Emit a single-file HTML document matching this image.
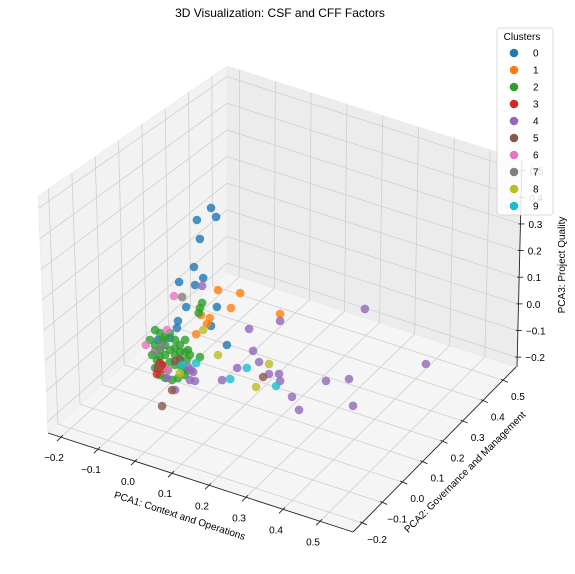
<!DOCTYPE html>
<html><head><meta charset="utf-8"><style>
html,body{margin:0;padding:0;background:#fff;}
svg{display:block;font-family:"Liberation Sans","DejaVu Sans",sans-serif;}
</style></head><body>
<svg id="chart" width="575" height="574" viewBox="0 0 575 574" xmlns="http://www.w3.org/2000/svg">
<rect width="575" height="574" fill="#fff"/>
<g id="panes"></g>
<g id="grid"></g>
<g id="axes"></g>
<g id="points"></g>
<text x="280" y="17" font-size="12" text-anchor="middle" fill="#000">3D Visualization: CSF and CFF Factors</text>
<g id="legend"></g>
</svg>
<script>
const pca1 = [0.072,0.086,0.034,0.042,0.026,-0.014,0.051,0.029,0.005,0.088,-0.017,-0.020,0.072,0.115,-0.071,-0.039,
 0.091,0.151,0.126,0.069,0.045,0.061,0.032,0.259,
 0.048,0.042,0.039,0.042,0.002,0.015,-0.079,-0.066,-0.052,-0.039,-0.025,-0.012,0.002,-0.079,-0.066,-0.052,-0.039,-0.025,-0.012,0.002,-0.074,-0.060,-0.044,-0.025,-0.006,-0.066,-0.052,-0.033,-0.017,-0.087,0.007,-0.093,-0.079,-0.039,-0.052,-0.025,-0.066,-0.012,0.002,0.010,-0.058,
 -0.066,-0.060,-0.074,-0.071,-0.055,
 0.048,0.175,0.259,0.186,0.202,0.143,0.102,0.229,0.256,0.259,0.291,0.310,0.018,0.024,0.010,0.015,0.029,-0.047,-0.025,0.488,0.653,0.383,0.445,0.456,
 0.213,-0.033,-0.060,-0.012,-0.071,-0.025,
 -0.028,-0.104,-0.047,-0.044,
 -0.006,-0.060,-0.079,
 0.051,0.091,0.229,0.194,-0.012,
 0.032,0.169,0.124,0.248,-0.006];
const pca3 = [0.555,0.528,0.493,0.426,0.314,0.240,0.284,0.248,0.155,0.193,0.093,0.066,0.115,0.063,-0.002,0.020,
 0.257,0.273,0.206,0.143,0.143,0.117,0.066,0.244,
 0.190,0.168,0.148,-0.015,-0.100,-0.019,0.031,0.026,0.018,0.038,0.019,0.006,0.031,-0.025,-0.037,-0.050,-0.025,-0.037,-0.050,-0.014,-0.078,-0.091,-0.102,-0.075,-0.077,-0.131,-0.135,-0.134,-0.120,-0.065,-0.041,-0.012,-0.110,-0.070,-0.012,-0.011,-0.063,-0.021,-0.081,-0.003,0.004,
 -0.086,-0.091,-0.131,-0.110,-0.103,
 0.253,0.150,0.218,0.073,0.039,-0.010,-0.074,0.006,0.019,-0.006,-0.051,-0.091,-0.074,-0.079,-0.066,-0.113,-0.110,-0.133,-0.168,0.366,0.235,0.050,0.085,-0.010,
 -0.012,-0.172,-0.244,-0.047,-0.102,-0.060,
 0.181,-0.036,0.046,-0.102,
 0.188,-0.020,-0.047,
 0.090,0.015,0.044,-0.058,-0.099,
 -0.042,0.002,-0.060,-0.030,-0.066];
const clusterSizes = [16,8,41,5,24,6,4,3,5,5];
const pca2 = pca1.map(() => 0);
const clusterColors = ["#1f77b4","#ff7f0e","#2ca02c","#d62728","#9467bd","#8c564b","#e377c2","#7f7f7f","#bcbd22","#17becf"];
const xTicks = [-0.2,-0.1,0.0,0.1,0.2,0.3,0.4,0.5];
const yTicks = [-0.2,-0.1,0.0,0.1,0.2,0.3,0.4,0.5];
const zTicks = [-0.2,-0.1,0.0,0.1,0.2,0.3,0.4,0.5];

const XR=[-0.235,0.589], YR=[-0.245,0.565], ZR=[-0.237,0.54];
function proj(x,y,z){
  return [353+(x-XR[1])*370+(y-YR[0])*201, 532+(x-XR[1])*121-(y-YR[0])*201-(z-ZR[0])*268];
}
function bil(q,u,v){
  const a=[q[0][0]+(q[1][0]-q[0][0])*u, q[0][1]+(q[1][1]-q[0][1])*u];
  const b=[q[2][0]+(q[3][0]-q[2][0])*u, q[2][1]+(q[3][1]-q[2][1])*u];
  return [a[0]+(b[0]-a[0])*v, a[1]+(b[1]-a[1])*v];
}
const NS="http://www.w3.org/2000/svg";
function mk(tag,attrs,parent){const e=document.createElementNS(NS,tag);for(const k in attrs)e.setAttribute(k,attrs[k]);parent.appendChild(e);return e;}
const FL=[48,433],FR=[353,532],BL=[227,273],BR=[516,367],FLt=[38,196],BLt=[227,66],BRt=[522,160];
const leftQ=[FL,BL,FLt,BLt], backQ=[BL,BR,BLt,BRt], floorQ=[FL,FR,BL,BR];
const panes=document.getElementById('panes');
[[leftQ,'#f2f2f2','left-wall-pane'],[backQ,'#ececec','back-wall-pane'],[floorQ,'#f5f5f5','floor-pane']].forEach(([q,c,n])=>{
  const p=mk('polygon',{points:[q[0],q[1],q[3],q[2]].map(a=>a.join(',')).join(' '),fill:c,stroke:'#e6e6e6','stroke-width':0.5},panes);
  
  
});
const grid=document.getElementById('grid');
function gl(a,b){const l=mk('line',{x1:a[0],y1:a[1],x2:b[0],y2:b[1],stroke:'#cfcfcf','stroke-width':0.8},grid);
  
  }
const fx=v=>(v-XR[0])/(XR[1]-XR[0]), fy=v=>(v-YR[0])/(YR[1]-YR[0]), fz=v=>(v-ZR[0])/(ZR[1]-ZR[0]);
yTicks.forEach(t=>{const u=fy(t);gl(bil(leftQ,u,0),bil(leftQ,u,1));gl(bil(floorQ,0,u),bil(floorQ,1,u));});
zTicks.forEach(t=>{const w=fz(t);gl(bil(leftQ,0,w),bil(leftQ,1,w));gl(bil(backQ,0,w),bil(backQ,1,w));});
xTicks.forEach(t=>{const u=fx(t);gl(bil(backQ,u,0),bil(backQ,u,1));gl(bil(floorQ,u,0),bil(floorQ,u,1));});

const axes=document.getElementById('axes');
function al(a,b,n){const l=mk('line',{x1:a[0],y1:a[1],x2:b[0],y2:b[1],stroke:'#222','stroke-width':0.9},axes);
  
  }
al(FL,FR,'x-axis-line');al(FR,BR,'y-axis-line');al([517,367],BRt,'z-axis-line');
function txt(x,y,s,n,extra){const t=mk('text',Object.assign({x:x,y:y,'font-size':10,fill:'#000','text-anchor':'middle'},extra||{}),axes);t.textContent=s;
  
  return t;}
const fmt=v=>(v<0?'\u2212':'')+Math.abs(v).toFixed(1);
xTicks.forEach(t=>{const p=bil(floorQ,fx(t),0);al([p[0]+2,p[1]-2],[p[0]-4,p[1]+4],'x-tick');
  txt(p[0]-7,p[1]+24,fmt(t),'x-tick-label');});
yTicks.forEach(t=>{const p=bil(floorQ,1,fy(t));al([p[0]-2,p[1]-1],[p[0]+5,p[1]+2],'y-tick');
  txt(p[0]+15,p[1]+20,fmt(t),'y-tick-label');});
zTicks.forEach(t=>{const w=fz(t);const y=367-(367-160)*w;const x=517+5*w;al([x-2,y],[x+4,y],'z-tick');
  txt(x+8,y+4,fmt(t),'z-tick-label',{'text-anchor':'start'});});
txt(180,519,'PCA1: Context and Operations','x-axis-title',{transform:'rotate(18 180 515)'});
txt(465,477,'PCA2: Governance and Management','y-axis-title',{transform:'rotate(-45 463 473)'});
txt(565,265,'PCA3: Project Quality','z-axis-title',{transform:'rotate(-90 565 265)'});

const pts=document.getElementById('points');
const clusterOf=[];clusterSizes.forEach((n,c)=>{for(let i=0;i<n;i++)clusterOf.push(c);});
for(let i=0;i<pca1.length;i++){
  const p=proj(pca1[i],pca2[i],pca3[i]);
  const c=mk('circle',{cx:p[0].toFixed(1),cy:p[1].toFixed(1),r:4.3,fill:clusterColors[clusterOf[i]],'fill-opacity':0.8},pts);
  
  
}

const lg=document.getElementById('legend');
const box=mk('rect',{x:497,y:28,width:56,height:187,rx:3,fill:'#fff','fill-opacity':0.85,stroke:'#d0d0d0','stroke-width':0.8},lg);


const lt=mk('text',{x:522,y:40,'font-size':10,'text-anchor':'middle'},lg);lt.textContent='Clusters';


clusterColors.forEach((col,i)=>{
  const y=53+i*17;
  const g=mk('g',{},lg);
  
  
  mk('circle',{cx:514,cy:y,r:4.3,fill:col},g);
  const t=mk('text',{x:533,y:y+3.5,'font-size':10},g);t.textContent=String(i);
});
</script>
</body></html>
